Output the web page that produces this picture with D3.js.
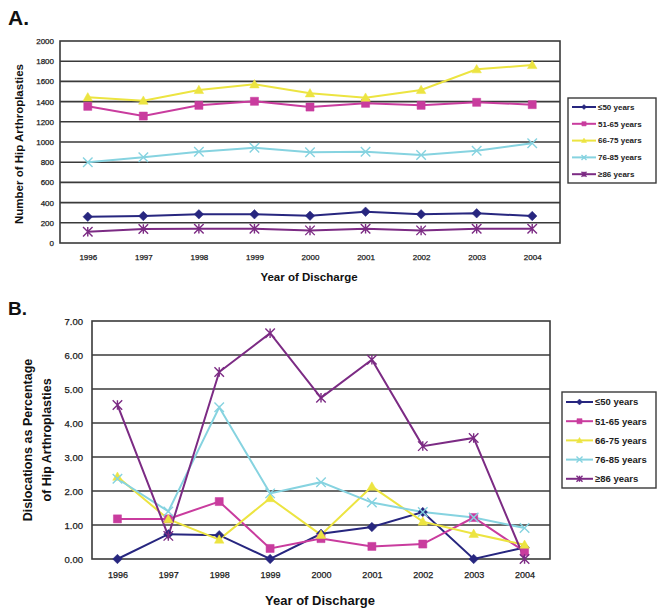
<!DOCTYPE html>
<html>
<head>
<meta charset="utf-8">
<script src="https://cdn.jsdelivr.net/npm/d3@7"></script>
<style>
  body { margin: 0; background: #fff; }
  svg { display: block; font-family: "Liberation Sans", Arial, sans-serif; }
</style>
</head>
<body>
<svg id="chart" width="657" height="609"></svg>
<script>
// categories
var years = [1996, 1997, 1998, 1999, 2000, 2001, 2002, 2003, 2004];
var groups = ["\u226450 years", "51-65 years", "66-75 years", "76-85 years", "\u226586 years"];
var colors = ["#27267f", "#c93c9e", "#ece441", "#86d3e0", "#7c2b84"];
var markers = ["diamond", "square", "triangle", "x", "star"];

// panel A - number of hip arthroplasties
var countLe50 = [260, 267, 284, 284, 270, 310, 284, 294, 267];
var count5165 = [1353, 1257, 1363, 1403, 1346, 1383, 1363, 1393, 1370];
var count6675 = [1442, 1409, 1515, 1571, 1482, 1439, 1515, 1720, 1762];
var count7685 = [799, 848, 904, 943, 898, 904, 871, 914, 987];
var countGe86 = [112, 139, 142, 142, 125, 142, 125, 142, 142];
var ticksA = [0, 200, 400, 600, 800, 1000, 1200, 1400, 1600, 1800, 2000];

// panel B - dislocations as % of arthroplasties
var pctLe50 = [0.00, 0.73, 0.70, 0.00, 0.74, 0.94, 1.38, 0.00, 0.34];
var pct5165 = [1.18, 1.18, 1.69, 0.31, 0.60, 0.37, 0.44, 1.22, 0.22];
var pct6675 = [2.42, 1.17, 0.57, 1.79, 0.71, 2.13, 1.10, 0.74, 0.42];
var pct7685 = [2.36, 1.40, 4.46, 1.93, 2.26, 1.66, 1.38, 1.22, 0.91];
var pctGe86 = [4.53, 0.68, 5.50, 6.64, 4.74, 5.86, 3.32, 3.56, 0.00];
var ticksB = [0, 1, 2, 3, 4, 5, 6, 7];

var svg = d3.select("#chart");

function markerPath(type, s) {
  var h = s / 2, p = d3.path();
  if (type === "diamond") {
    p.moveTo(0, -h); p.lineTo(h, 0); p.lineTo(0, h); p.lineTo(-h, 0); p.closePath();
  } else if (type === "square") {
    p.rect(-h * 0.85, -h * 0.85, h * 1.7, h * 1.7);
  } else if (type === "triangle") {
    p.moveTo(0, -h); p.lineTo(h, h * 0.75); p.lineTo(-h, h * 0.75); p.closePath();
  } else {
    p.moveTo(-h, -h); p.lineTo(h, h); p.moveTo(h, -h); p.lineTo(-h, h);
    if (type === "star") { p.moveTo(0, -h); p.lineTo(0, h); }
  }
  return p.toString();
}

function drawMarker(g, type, color, x, y, s) {
  var filled = type !== "x" && type !== "star";
  g.append("path")
    .attr("transform", "translate(" + x + "," + y + ")")
    .attr("d", markerPath(type, s))
    .attr("fill", filled ? color : "none")
    .attr("stroke", color)
    .attr("stroke-width", filled ? 0.5 : 1.4);
}

function panel(opt) {
  var g = svg.append("g");
  var x = d3.scalePoint().domain(years).range([opt.x0, opt.x1]).padding(0.5);
  var y = d3.scaleLinear().domain([0, opt.ymax]).range([opt.y0, opt.y1]);

  g.append("rect")
    .attr("x", opt.x0).attr("y", opt.y1)
    .attr("width", opt.x1 - opt.x0).attr("height", opt.y0 - opt.y1)
    .attr("fill", "#fff").attr("stroke", "#3a3a3a").attr("stroke-width", 1.6);

  g.selectAll(".grid").data(opt.ticks.slice(1, -1)).enter().append("line")
    .attr("x1", opt.x0).attr("x2", opt.x1)
    .attr("y1", function (d) { return y(d); }).attr("y2", function (d) { return y(d); })
    .attr("stroke", "#3a3a3a").attr("stroke-width", 1.6);

  var ya = d3.axisLeft(y).tickValues(opt.ticks).tickSize(0).tickPadding(opt.ytickPad).tickFormat(opt.fmt);
  g.append("g").attr("transform", "translate(" + opt.x0 + ",0)").call(ya)
    .call(function (a) { a.select(".domain").remove(); })
    .selectAll("text").attr("font-size", opt.tickFont).attr("fill", "#1a1a1a")
    .attr("stroke", "#1a1a1a").attr("stroke-width", 0.25)
    .attr("font-family", "Liberation Sans, Arial, sans-serif");

  var xa = d3.axisBottom(x).tickSize(0).tickPadding(opt.xtickPad);
  g.append("g").attr("transform", "translate(0," + opt.y0 + ")").call(xa)
    .call(function (a) { a.select(".domain").remove(); })
    .selectAll("text").attr("font-size", opt.xtickFont).attr("fill", "#1a1a1a")
    .attr("stroke", "#1a1a1a").attr("stroke-width", 0.25)
    .attr("font-family", "Liberation Sans, Arial, sans-serif");

  var line = d3.line().x(function (d, i) { return x(years[i]); }).y(function (d) { return y(d); });

  opt.series.forEach(function (vals, k) {
    g.append("path").datum(vals)
      .attr("d", line).attr("fill", "none")
      .attr("stroke", colors[k]).attr("stroke-width", 2);
  });
  opt.series.forEach(function (vals, k) {
    vals.forEach(function (v, i) {
      drawMarker(g, markers[k], colors[k], x(years[i]), y(v), opt.msize);
    });
  });

  // legend
  var lg = g.append("g");
  lg.append("rect")
    .attr("x", opt.lx).attr("y", opt.ly)
    .attr("width", opt.lw).attr("height", opt.lh)
    .attr("fill", "#fff").attr("stroke", "#3a3a3a").attr("stroke-width", 1.4);
  groups.forEach(function (name, k) {
    var yy = opt.ly + opt.lpad + k * opt.lstep;
    var xa0 = opt.lx + 4, xa1 = xa0 + opt.lline;
    lg.append("line").attr("x1", xa0).attr("x2", xa1).attr("y1", yy).attr("y2", yy)
      .attr("stroke", colors[k]).attr("stroke-width", 2);
    drawMarker(lg, markers[k], colors[k], (xa0 + xa1) / 2, yy, opt.lmsize);
    lg.append("text").attr("x", xa1 + 2).attr("y", yy).attr("dy", "0.35em")
      .attr("font-size", opt.lfont).attr("font-weight", "bold").attr("fill", "#222")
      .text(name);
  });

  // titles
  svg.append("text").attr("x", 8).attr("y", opt.labelY)
    .attr("font-size", opt.labelFont).attr("font-weight", "bold").attr("fill", "#111")
    .text(opt.label);
  svg.append("text").attr("x", opt.xtitleX).attr("y", opt.xtitleY)
    .attr("text-anchor", "middle").attr("font-size", opt.titleFont)
    .attr("font-weight", "bold").attr("fill", "#111").text("Year of Discharge");
  opt.ytitle.forEach(function (t, i) {
    svg.append("text")
      .attr("transform", "translate(" + opt.ytitleX[i] + "," + opt.ytitleY + ") rotate(-90)")
      .attr("text-anchor", "middle").attr("font-size", opt.ytitleFont)
      .attr("font-weight", "bold").attr("fill", "#111").text(t);
  });
}

panel({
  x0: 60, x1: 560, y0: 243, y1: 41, ymax: 2000, ticks: ticksA,
  fmt: d3.format("d"), tickFont: 8, xtickFont: 8, ytickPad: 6, xtickPad: 11,
  series: [countLe50, count5165, count6675, count7685, countGe86], msize: 9.5,
  lx: 568, ly: 98, lw: 88, lh: 85, lpad: 9, lstep: 16.8, lline: 24, lmsize: 5, lfont: 8,
  label: "A.", labelY: 25, labelFont: 21,
  xtitleX: 309, xtitleY: 281, titleFont: 11.5,
  ytitle: ["Number of Hip Arthroplasties"], ytitleX: [23], ytitleY: 144, ytitleFont: 11.5
});

panel({
  x0: 92, x1: 550, y0: 559, y1: 321, ymax: 7, ticks: ticksB,
  fmt: d3.format(".2f"), tickFont: 9.5, xtickFont: 9, ytickPad: 9, xtickPad: 13,
  series: [pctLe50, pct5165, pct6675, pct7685, pctGe86], msize: 9.5,
  lx: 562, ly: 392, lw: 94, lh: 96, lpad: 10, lstep: 19.2, lline: 27, lmsize: 6, lfont: 9.5,
  label: "B.", labelY: 315, labelFont: 19,
  xtitleX: 320, xtitleY: 605, titleFont: 13,
  ytitle: ["Dislocations as Percentage", "of Hip Arthroplasties"], ytitleX: [32, 51], ytitleY: 440, ytitleFont: 12.5
});
</script>
</body>
</html>
